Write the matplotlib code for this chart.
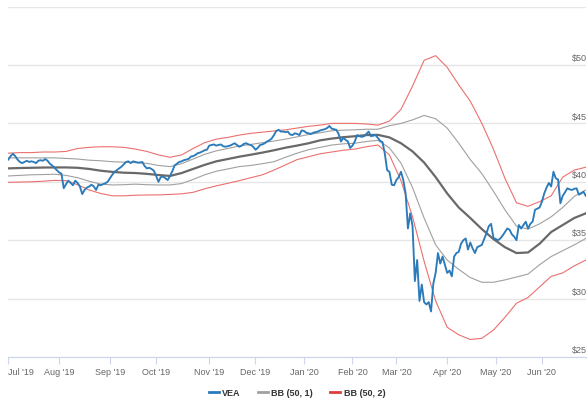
import numpy as np
import pandas as pd
import matplotlib
matplotlib.use("Agg")
import matplotlib.pyplot as plt
from matplotlib.lines import Line2D

plt.rcParams['font.family'] = ['Liberation Sans', 'DejaVu Sans']

# trading sessions Jul 1 2019 - Jun 26 2020
holidays = ['2019-07-04', '2019-09-02', '2019-11-28', '2019-12-25', '2020-01-01',
            '2020-01-20', '2020-02-17', '2020-04-10', '2020-05-25']
days = pd.bdate_range('2019-07-01', '2020-06-26', freq='C', holidays=holidays)

# VEA daily close
vea = [
    # Jul '19
    41.9, 42.2, 42.4, 42.2, 41.9, 41.7, 41.6, 41.7, 41.8, 41.7, 41.75, 41.7, 41.6, 41.8, 41.85,
    41.8, 41.95, 41.8, 41.55, 41.4, 41.2, 41.0,
    # Aug
    40.8, 40.7, 39.45, 39.8, 40.1, 39.9, 39.7, 40.1, 39.9, 39.6, 38.95, 39.3, 39.5, 39.6, 39.75,
    39.6, 39.3, 39.75, 39.7, 39.8, 39.87, 40.0,
    # Sep
    40.3, 40.6, 40.85, 41.0, 41.15, 41.3, 41.5, 41.7, 41.75, 41.6, 41.75, 41.7, 41.65, 41.65,
    41.7, 41.35, 41.15, 41.2, 41.1, 40.95,
    # Oct
    40.5, 40.0, 40.4, 40.45, 40.3, 40.15, 40.5, 40.9, 41.4, 41.55, 41.7, 41.75, 41.85, 41.9,
    41.95, 42.15, 42.2, 42.3, 42.45, 42.5, 42.6, 42.7, 42.75,
    # Nov
    43.1, 43.15, 43.2, 43.1, 43.15, 43.2, 43.05, 43.0, 43.05, 43.1, 43.2, 43.3, 43.15, 43.0,
    43.1, 43.25, 43.3, 43.2, 43.15, 43.0,
    # Dec
    42.75, 42.9, 43.15, 43.2, 43.3, 43.45, 43.55, 43.7, 44.0, 44.35, 44.45, 44.3, 44.3, 44.25,
    44.3, 44.05, 44.0, 44.15, 44.1, 44.0, 44.4,
    # Jan '20
    44.35, 44.2, 44.15, 44.1, 44.2, 44.25, 44.3, 44.4, 44.45, 44.5, 44.6, 44.78, 44.55, 44.5,
    44.45, 44.1, 43.45, 43.75, 43.6, 43.45, 42.9,
    # Feb
    43.1, 43.45, 44.0, 43.9, 43.85, 43.9, 44.1, 44.3, 43.9, 43.95, 44.0, 43.75, 43.5, 43.4,
    42.4, 41.0, 40.85, 39.75, 39.7,
    # Mar
    40.15, 40.4, 40.86, 40.15, 39.0, 36.0, 37.3, 36.2, 31.5, 33.3, 29.8, 31.2, 29.7, 29.5,
    29.7, 28.9, 31.3, 32.2, 33.9, 33.0, 33.6, 32.9,
    # Apr
    32.2, 32.4, 31.9, 33.6, 33.9, 34.0, 34.7, 35.0, 35.15, 34.2, 34.8, 34.3, 33.9, 34.4, 34.5,
    34.6, 35.1, 35.6, 36.2, 36.4, 35.2,
    # May
    35.1, 35.0, 35.15, 35.4, 35.7, 36.0, 35.9, 35.5, 35.3, 35.0, 36.3, 36.0, 36.3, 36.58, 36.0,
    36.4, 36.6, 37.6, 37.7, 37.8,
    # Jun
    38.3, 39.0, 39.5, 39.9, 39.6, 40.86, 40.3, 40.2, 38.16, 38.8, 39.1, 39.44, 39.35, 39.3,
    39.4, 39.44, 38.9, 39.0, 39.15, 38.8,
]

# Bollinger bands, every 5th session
band_step = 5
bb_mid = [41.15, 41.18, 41.2, 41.22, 41.23, 41.23, 41.2, 41.1, 40.95, 40.85,
          40.78, 40.75, 40.68, 40.58, 40.5, 40.75, 41.1, 41.45, 41.75, 41.95,
          42.15, 42.32, 42.5, 42.7, 42.92, 43.1, 43.3, 43.55, 43.7, 43.82,
          43.9, 44.0, 44.02, 43.8, 43.3, 42.6, 41.65, 40.4, 39.0, 37.8,
          36.9, 35.95, 35.1, 34.4, 33.9, 33.95, 34.7, 35.7, 36.3, 36.9, 37.3]
bb1_upper = [42.05, 42.05, 42.05, 42.05, 42.05, 42.0, 41.95, 41.85, 41.8, 41.72,
             41.68, 41.64, 41.58, 41.4, 41.3, 41.55, 41.95, 42.35, 42.65, 42.85,
             43.07, 43.2, 43.35, 43.49, 43.65, 43.85, 44.05, 44.2, 44.37, 44.42,
             44.45, 44.5, 44.5, 44.8, 45.0, 45.3, 45.68, 45.4, 44.6, 43.3,
             41.9, 40.7, 39.2, 37.6, 36.2, 35.95, 36.4, 37.0, 37.8, 38.75, 39.3]
bb1_lower = [40.5, 40.55, 40.6, 40.62, 40.65, 40.55, 40.35, 40.05, 39.8, 39.73,
             39.75, 39.8, 39.75, 39.73, 39.73, 39.85, 40.2, 40.6, 40.9, 41.1,
             41.3, 41.4, 41.55, 41.72, 42.1, 42.45, 42.75, 42.95, 43.15, 43.25,
             43.3, 43.45, 43.55, 42.9, 41.6, 39.5, 36.9, 34.6, 33.3, 32.5,
             31.8, 31.4, 31.4, 31.6, 31.85, 32.1, 32.9, 33.6, 34.1, 34.6, 35.15]
bb2_upper = [42.45, 42.5, 42.5, 42.55, 42.55, 42.6, 42.85, 42.95, 43.0, 43.0,
             42.95, 42.8, 42.6, 42.3, 42.1, 42.3, 42.85, 43.35, 43.65, 43.8,
             44.0, 44.15, 44.25, 44.35, 44.45, 44.6, 44.75, 44.85, 45.0, 45.0,
             45.0, 44.95, 44.85, 45.2, 46.2, 48.2, 50.4, 50.8, 49.8, 48.3,
             46.9, 45.0, 42.8, 40.3, 38.2, 37.9, 38.3, 38.8, 40.4, 41.0, 41.25]
bb2_lower = [39.95, 39.98, 40.0, 40.05, 40.12, 40.1, 39.75, 39.3, 39.0, 38.8,
             38.8, 38.85, 38.87, 38.88, 38.92, 38.97, 39.1, 39.4, 39.65, 39.87,
             40.1, 40.35, 40.6, 41.0, 41.45, 41.9, 42.15, 42.4, 42.55, 42.7,
             42.8, 43.0, 43.15, 42.3, 40.1, 37.0, 33.2, 29.8, 27.55, 26.9,
             26.5, 26.6, 27.3, 28.4, 29.6, 30.1, 31.0, 31.9, 32.2, 32.8, 33.3]

price_ticks = [25, 30, 35, 40, 45, 50]
series_names = ['VEA', 'BB (50, 1)', 'BB (50, 2)']

BLUE = '#2b7bba'
GRAY = '#a0a0a0'
DARK = '#696969'
RED = '#eb7070'

x_vea = np.arange(len(days))
x_band = np.arange(0, len(days), band_step)

fig = plt.figure(figsize=(5.87, 4.03), dpi=100)
ax = fig.add_axes([8.3 / 587, 1 - 357 / 403, (585.8 - 8.3) / 587, (357 - 6.6) / 403])

for v in range(25, 60, 5):
    ax.axhline(v, color='#e6e6e6', lw=1, zorder=0)

ax.plot(x_band, bb2_upper, color=RED, lw=0.8, zorder=2)
ax.plot(x_band, bb2_lower, color=RED, lw=0.8, zorder=2)
ax.plot(x_band, bb1_upper, color=GRAY, lw=0.8, zorder=2)
ax.plot(x_band, bb1_lower, color=GRAY, lw=0.8, zorder=2)
ax.plot(x_band, bb_mid, color=DARK, lw=1.6, zorder=3)
ax.plot(x_vea, vea, color=BLUE, lw=1.35, zorder=4, solid_joinstyle='round')

ax.set_xlim(0, len(days) - 1)
ax.set_ylim(25, 55)
for s in ['top', 'right', 'left']:
    ax.spines[s].set_visible(False)
ax.spines['bottom'].set_color('#ccd6eb')
ax.set_yticks([])

# month ticks on first session of each month
pos = pd.Series(x_vea, index=days)
firsts = pos.groupby(days.to_period('M')).first()
ax.set_xticks(firsts.values)
labels = ax.set_xticklabels([d.strftime("%b '%y") for d in firsts.index.to_timestamp()],
                            fontsize=6.5, color='#666666')
labels[0].set_ha('left')
ax.tick_params(axis='x', length=5, color='#ccd6eb', pad=3)

for v in price_ticks:
    ax.text(0.976, v + 0.15, '$%d' % v, transform=ax.get_yaxis_transform(),
            fontsize=6.5, color='#666666', ha='left', va='bottom', clip_on=False)

handles = [Line2D([], [], color=BLUE, lw=2),
           Line2D([], [], color=GRAY, lw=2),
           Line2D([], [], color='#e03c3c', lw=2)]
leg = fig.legend(handles, series_names, loc='center', ncol=3,
                 bbox_to_anchor=(297 / 587, 1 - 393 / 403), frameon=False,
                 handlelength=1.1, handletextpad=0.4, columnspacing=1.9,
                 prop={'size': 6.5, 'weight': 'bold'})
for t in leg.get_texts():
    t.set_color('#333333')

fig.savefig('out.png', dpi=100)
